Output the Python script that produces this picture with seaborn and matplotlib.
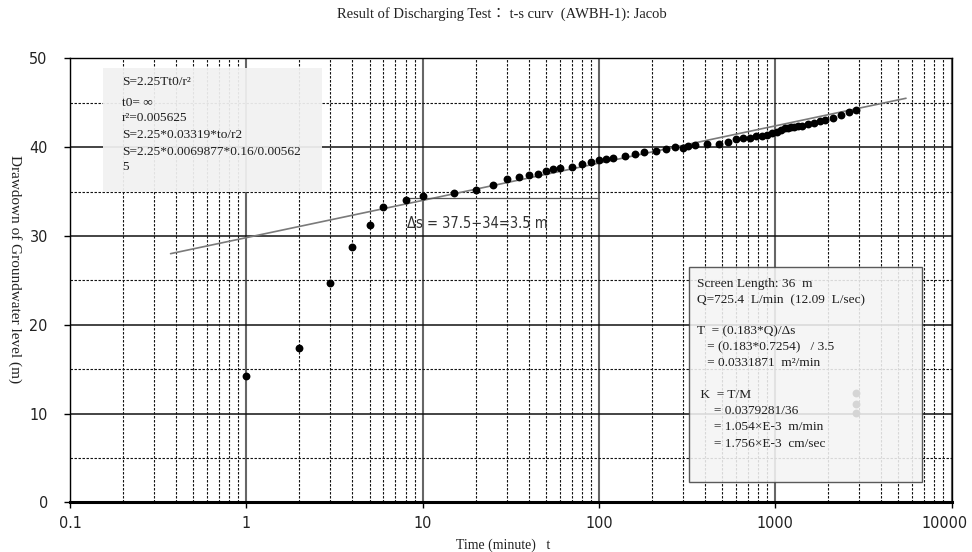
import numpy as np
import pandas as pd
import matplotlib
matplotlib.use("Agg")
import matplotlib.pyplot as plt
import matplotlib.transforms as mtransforms
import seaborn as sns
from matplotlib import font_manager as fm
from matplotlib.ticker import LogLocator, FixedLocator, FixedFormatter, MultipleLocator, NullFormatter
from matplotlib.patches import Rectangle

# ---- pumping test readings: elapsed time (min) vs drawdown (m) ----
time_min = [1, 2, 3, 4, 5, 6, 8, 10, 15, 20, 25, 30, 35, 40, 45, 50, 55, 60,
            70, 80, 90, 100, 110, 120, 140, 160, 180, 210, 240, 270, 300, 320,
            350, 410, 480, 540, 600, 660, 720, 780, 840, 900, 960, 1020, 1080,
            1130, 1180, 1230, 1280, 1340, 1410, 1540, 1670, 1800, 1920, 2120,
            2360, 2620, 2880]
drawdown_m = [14.2, 17.4, 24.7, 28.7, 31.2, 33.2, 34.0, 34.5, 34.8, 35.2, 35.7,
              36.4, 36.6, 36.9, 37.0, 37.3, 37.5, 37.6, 37.8, 38.1, 38.3, 38.6,
              38.7, 38.8, 39.0, 39.2, 39.4, 39.6, 39.8, 40.0, 39.9, 40.1, 40.2,
              40.3, 40.4, 40.6, 40.9, 41.0, 41.0, 41.2, 41.3, 41.4, 41.6, 41.7,
              41.9, 42.1, 42.2, 42.3, 42.3, 42.4, 42.4, 42.6, 42.7, 42.9, 43.1,
              43.3, 43.6, 44.0, 44.2]

# faint readings sitting behind the result panel
late_time = [2880, 2880, 2880]
late_drawdown = [12.3, 11.1, 10.05]

# Jacob straight-line fit (end points)
fit_time = [0.372, 5520]
fit_drawdown = [28.0, 45.5]

# reference level used for the delta-s reading
ref_time = [8, 100]
ref_drawdown = [34.3, 34.3]

x_ticks = [0.1, 1, 10, 100, 1000, 10000]
x_tick_labels = ["0.1", "1", "10", "100", "1000", "10000"]
y_ticks = [0, 10, 20, 30, 40, 50]

title_text = "Result of Discharging Test\uff1a t-s curv  (AWBH-1): Jacob"
x_label = "Time (minute)   t"
y_label = "Drawdown of Groundwater level (m)"
delta_text = "\u0394s = 37.5\u221234=3.5 m"

formula_lines = ["S=2.25Tt0/r\u00b2", "t0= \u221e", "r\u00b2=0.005625",
                 "S=2.25*0.03319*to/r2", "S=2.25*0.0069877*0.16/0.00562", "5"]
result_lines = ["Screen Length: 36  m",
                "Q=725.4  L/min  (12.09  L/sec)",
                "T  = (0.183*Q)/\u0394s",
                "   = (0.183*0.7254)   / 3.5",
                "   = 0.0331871  m\u00b2/min",
                " K  = T/M",
                "     = 0.0379281/36",
                "     = 1.054\u00d7E-3  m/min",
                "     = 1.756\u00d7E-3  cm/sec"]

sns.set_theme(style="white")
installed = {f.name for f in fm.fontManager.ttflist}
SERIF = ["Liberation Serif", "Noto Sans CJK JP", "DejaVu Serif"]
if "Liberation Sans Narrow" in installed:
    NARROW = dict(family="Liberation Sans Narrow")
else:
    NARROW = dict(family="DejaVu Sans", stretch="condensed")
plt.rcParams["font.family"] = SERIF

df = pd.DataFrame({"t": time_min, "s": drawdown_m})
fit_df = pd.DataFrame({"t": fit_time, "s": fit_drawdown})

fig = plt.figure(figsize=(9.72, 5.52), dpi=100)
ax = fig.add_axes([70 / 972, 1 - 502.3 / 552, (951.5 - 70) / 972, (502.3 - 58.3) / 552])
ax.set_xscale("log")

# grid: solid decades / tens, dashed intermediates
ax.set_axisbelow(True)
ax.xaxis.set_major_locator(FixedLocator(x_ticks))
ax.xaxis.set_major_formatter(FixedFormatter(x_tick_labels))
ax.xaxis.set_minor_locator(LogLocator(base=10, subs=np.arange(2, 10)))
ax.xaxis.set_minor_formatter(NullFormatter())
ax.yaxis.set_major_locator(FixedLocator(y_ticks))
ax.yaxis.set_minor_locator(MultipleLocator(5))
ax.xaxis.grid(True, which="major", color="#666666", lw=1.5, ls="-")
ax.xaxis.grid(True, which="minor", color="#111111", lw=0.8, ls=(0, (2.2, 1.4)))
ax.yaxis.grid(True, which="major", color="#111111", lw=1.1, ls="-")
ax.yaxis.grid(True, which="minor", color="#111111", lw=0.8, ls=(0, (2.2, 1.4)))

sns.lineplot(data=fit_df, x="t", y="s", color="#7a7a7a", lw=1.2, ax=ax, zorder=4)
ax.plot(ref_time, ref_drawdown, color="#555555", lw=0.9, zorder=4)
sns.scatterplot(data=df, x="t", y="s", color="black", s=32, linewidth=0, ax=ax, zorder=5)
ax.scatter(late_time, late_drawdown, color="black", s=32, linewidth=0, zorder=5)

ax.set_xlim(0.1, 10000)
ax.set_ylim(0, 50)

for side in ["top", "right", "left"]:
    ax.spines[side].set_visible(True)
    ax.spines[side].set_color("black")
    ax.spines[side].set_linewidth(1.0)
ax.spines["bottom"].set_color("black")
ax.spines["bottom"].set_linewidth(2.2)

ax.tick_params(axis="both", which="major", direction="out", length=4, width=1,
               color="black", labelsize=11.5, labelcolor="#222222")
ax.tick_params(axis="x", which="major", pad=6, bottom=True)
ax.tick_params(axis="y", which="major", pad=12, left=True)
ax.tick_params(axis="both", which="minor", length=0)
for lab in ax.get_xticklabels() + ax.get_yticklabels():
    lab.set_fontfamily(NARROW["family"])
    if "stretch" in NARROW:
        lab.set_fontstretch(NARROW["stretch"])

# keep the last time label inside the canvas
last_lab = ax.get_xticklabels()[-1]
last_lab.set_transform(last_lab.get_transform() +
                       mtransforms.ScaledTranslation(-7 / 100, 0, fig.dpi_scale_trans))

ax.set_xlabel("")
ax.set_ylabel("")
fig.text(503 / 972, 1 - 545 / 552, x_label, ha="center", va="center",
         fontsize=10, family=SERIF, color="#222222")
fig.text(15 / 972, 1 - 269 / 552, y_label, ha="center", va="center",
         rotation=-90, fontsize=11, family=SERIF, color="#222222")
fig.text(502 / 972, 1 - 14 / 552, title_text, ha="center", va="center",
         fontsize=10.5, family=SERIF, color="#222222")

ax.text(407 / 972, 1 - 224 / 552, delta_text, transform=fig.transFigure,
        ha="left", va="center", fontsize=10.5, color="#333333", zorder=6, **NARROW)

# formula panel (upper left)
ax.add_patch(Rectangle((103 / 972, 1 - 192 / 552), 219 / 972, 124 / 552,
                       transform=fig.transFigure, facecolor="#f2f2f2", alpha=0.93,
                       edgecolor="none", zorder=10, clip_on=False))
formula_y = [81.7, 103.3, 118.3, 135, 151.7, 166.7]
for line, yy in zip(formula_lines, formula_y):
    ax.text(122 / 972, 1 - yy / 552, line, transform=fig.transFigure, ha="left",
            va="center", fontsize=9.6, family=SERIF, color="#1e1e1e", zorder=11)

# result panel (lower right)
ax.add_patch(Rectangle((689 / 972, 1 - 482 / 552), 233 / 972, 215 / 552,
                       transform=fig.transFigure, facecolor="#f4f4f4", alpha=0.88,
                       edgecolor="#444444", lw=1.0, zorder=10, clip_on=False))
result_y = [284, 300.7, 331.7, 347.7, 362.7, 395, 410.7, 426.7, 444.3]
for line, yy in zip(result_lines, result_y):
    ax.text(697 / 972, 1 - yy / 552, line, transform=fig.transFigure, ha="left",
            va="center", fontsize=9.6, family=SERIF, color="#1e1e1e", zorder=11)

fig.savefig("out.png", dpi=100, facecolor="white")
